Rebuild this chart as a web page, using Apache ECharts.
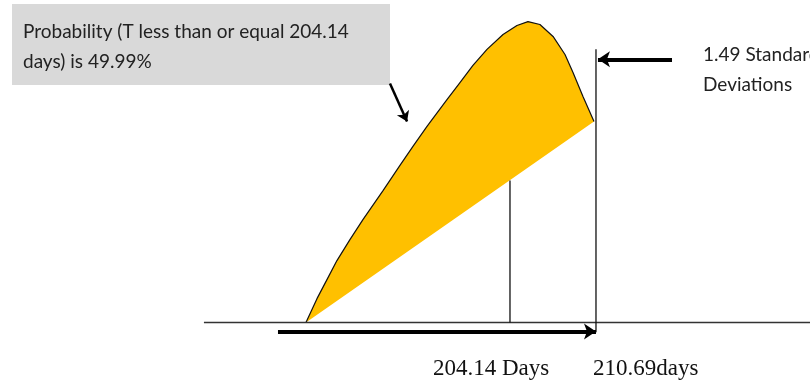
<!DOCTYPE html>
<html>
<head>
<meta charset="utf-8">
<script src="https://cdn.jsdelivr.net/npm/echarts@6/dist/echarts.min.js"></script>
<style>
html,body{margin:0;padding:0;background:#fff;}
#chart{width:810px;height:387px;}
</style>
</head>
<body>
<div id="chart"></div>
<script>
// ---- data (x in days, y in relative density units) ----
var curveDays = [188.60, 189.44, 190.20, 190.96, 191.95, 192.94, 194.47, 195.76, 196.75, 197.82, 199.34, 200.33, 201.32, 202.39, 203.61, 204.67, 205.51, 206.42, 207.42, 208.33, 208.94, 209.70, 210.54];
var curveDensity = [0.000, 0.074, 0.133, 0.192, 0.257, 0.319, 0.409, 0.487, 0.546, 0.608, 0.691, 0.744, 0.797, 0.847, 0.893, 0.921, 0.933, 0.924, 0.887, 0.831, 0.775, 0.701, 0.623];
var meanDay = 204.14;
var meanLineTop = 0.44;
var targetDay = 210.69;
var targetLineRange = [-0.03, 0.847];
var baselineDays = [180.83, 227];
var spanArrowDays = [186.47, 210.69];
var spanArrowLevel = -0.028;
var sdArrowDays = [216.48, 210.84];
var sdArrowLevel = 0.816;
var noteArrowFrom = [195.00, 0.741];
var noteArrowTo = [196.30, 0.623];
var meanLabel = '204.14 Days';
var targetLabel = '210.69days';
var noteText = 'Probability (T less than or equal 204.14\ndays) is 49.99%';
var sdText = '1.49 Standard\nDeviations';

var curvePoints = curveDays.map(function (d, i) { return [d, curveDensity[i]]; });

var chart = echarts.init(document.getElementById('chart'), null, {renderer: 'canvas'});
chart.setOption({
  animation: false,
  backgroundColor: '#ffffff',
  grid: {left: 0, right: 0, top: 0, bottom: 0},
  xAxis: {type: 'value', min: 165.298, max: 226.99, show: false},
  yAxis: {type: 'value', min: -0.2, max: 1.0, show: false},
  graphic: [
    {type: 'rect', shape: {x: 12, y: 4, width: 378, height: 81}, style: {fill: '#d9d9d9'}, z: 1},
    {type: 'text', x: 23, y: 47, style: {text: noteText, font: '19px Lato', fill: '#222', lineHeight: 30, verticalAlign: 'middle'}, z: 2},
    {type: 'text', x: 703, y: 70, style: {text: sdText, font: '19px Lato', fill: '#222', lineHeight: 30, verticalAlign: 'middle'}, z: 2},
    {type: 'text', x: 433, y: 369, style: {text: meanLabel, font: '23px "Liberation Serif"', fill: '#111', verticalAlign: 'middle'}, z: 2},
    {type: 'text', x: 593, y: 369, style: {text: targetLabel, font: '23px "Liberation Serif"', fill: '#111', verticalAlign: 'middle'}, z: 2}
  ],
  series: [
    {
      type: 'custom',
      coordinateSystem: 'cartesian2d',
      data: curvePoints,
      z: 2,
      renderItem: function (params, api) {
        if (params.dataIndex !== 0) return;
        var pts = curvePoints.map(function (p) { return api.coord(p); });
        return {type: 'polygon', shape: {points: pts}, style: {fill: '#FFC000', stroke: null}};
      }
    },
    {
      type: 'line', data: curvePoints, showSymbol: false, z: 3,
      lineStyle: {color: '#111', width: 1.2}
    },
    {
      type: 'line', data: [[baselineDays[0], 0], [baselineDays[1], 0]], showSymbol: false, z: 3,
      lineStyle: {color: '#333', width: 1.5}
    },
    {
      type: 'line', data: [[meanDay, 0], [meanDay, meanLineTop]], showSymbol: false, z: 3,
      lineStyle: {color: '#111', width: 1.3}
    },
    {
      type: 'line', data: [[targetDay, targetLineRange[0]], [targetDay, targetLineRange[1]]], showSymbol: false, z: 3,
      lineStyle: {color: '#111', width: 1.3}
    },
    {
      type: 'lines', coordinateSystem: 'cartesian2d', z: 4,
      symbol: ['none', 'arrow'], symbolSize: 12,
      lineStyle: {color: '#000', width: 4, opacity: 1},
      data: [
        {coords: [[spanArrowDays[0], spanArrowLevel], [spanArrowDays[1], spanArrowLevel]]},
        {coords: [[sdArrowDays[0], sdArrowLevel], [sdArrowDays[1], sdArrowLevel]]}
      ]
    },
    {
      type: 'lines', coordinateSystem: 'cartesian2d', z: 4,
      symbol: ['none', 'arrow'], symbolSize: 10,
      lineStyle: {color: '#000', width: 2.5, opacity: 1},
      data: [{coords: [noteArrowFrom, noteArrowTo]}]
    }
  ]
});
</script>
</body>
</html>
